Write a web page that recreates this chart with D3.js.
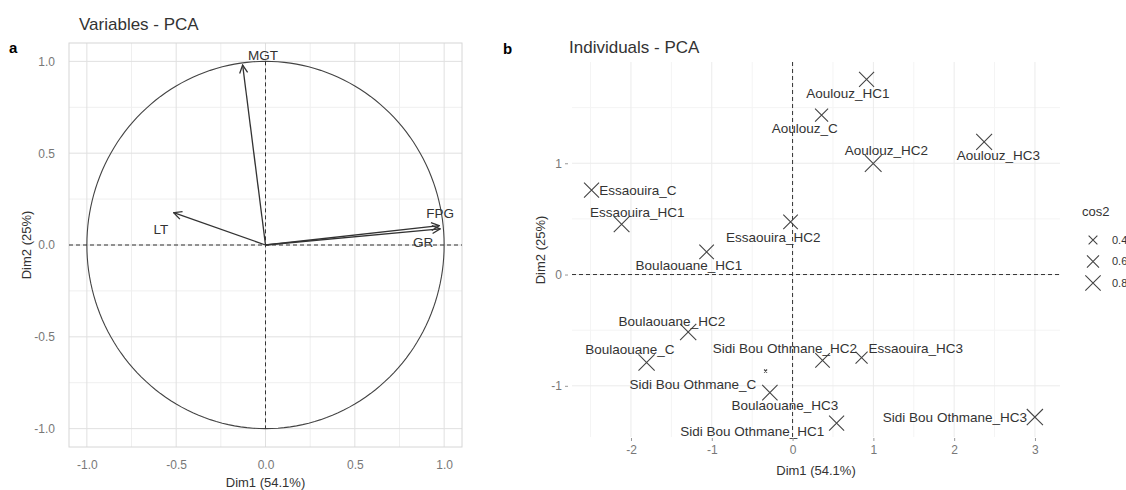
<!DOCTYPE html>
<html>
<head>
<meta charset="utf-8">
<script src="https://cdn.jsdelivr.net/npm/d3@7"></script>
<style>
body { margin: 0; background: #fff; }
text { font-family: "Liberation Sans", Arial, sans-serif; }
</style>
</head>
<body>
<svg width="1126" height="490"></svg>
<script>
// panel a : variables
var varNames = ["MGT", "LT", "FPG", "GR"];
var varDim1 = [-0.128, -0.514, 0.973, 0.978];
var varDim2 = [0.980, 0.176, 0.105, 0.088];
var varLabelX = [-0.014, -0.585, 0.977, 0.882];
var varLabelY = [1.035, 0.087, 0.174, 0.016];
var aTicks = [-1, -0.5, 0, 0.5, 1];
var aMinor = [-0.75, -0.25, 0.25, 0.75];

// panel b : individuals
var indNames = ["Aoulouz_C", "Aoulouz_HC1", "Aoulouz_HC2", "Aoulouz_HC3",
  "Essaouira_C", "Essaouira_HC1", "Essaouira_HC2", "Essaouira_HC3",
  "Boulaouane_C", "Boulaouane_HC1", "Boulaouane_HC2", "Boulaouane_HC3",
  "Sidi Bou Othmane_C", "Sidi Bou Othmane_HC1", "Sidi Bou Othmane_HC2", "Sidi Bou Othmane_HC3"];
var indDim1 = [0.359, 0.916, 0.998, 2.371, -2.488, -2.116, -0.025, 0.854,
  -1.807, -1.064, -1.292, -0.334, -0.281, 0.545, 0.371, 2.999];
var indDim2 = [1.433, 1.754, 0.998, 1.192, 0.758, 0.452, 0.473, -0.747,
  -0.791, 0.203, -0.516, -0.867, -1.061, -1.335, -0.771, -1.281];
var indCos2 = [0.66, 0.78, 0.88, 0.83, 0.78, 0.82, 0.75, 0.60,
  0.85, 0.75, 0.85, 0.05, 0.80, 0.78, 0.75, 0.85];
var indLabelX = [0.151, 0.684, 1.161, 2.547, -1.914, -1.921, -0.238, 1.525,
  -2.014, -1.283, -1.494, -0.095, -1.234, -0.498, -0.095, 2.009];
var indLabelY = [1.316, 1.630, 1.118, 1.073, 0.757, 0.560, 0.335, -0.663,
  -0.675, 0.084, -0.417, -1.175, -0.987, -1.406, -0.666, -1.281];
var bTicksX = [-2, -1, 0, 1, 2, 3];
var bMinorX = [-2.5, -1.5, -0.5, 0.5, 1.5, 2.5];
var bTicksY = [-1, 0, 1];
var bMinorY = [-0.5, 0.5, 1.5];
var legendBreaks = [0.4, 0.6, 0.8];

var svg = d3.select("svg");
var ink = "#333";

svg.append("defs").append("marker")
    .attr("id", "arr")
    .attr("markerUnits", "userSpaceOnUse")
    .attr("viewBox", "-10 -5 11 10")
    .attr("refX", 0).attr("refY", 0)
    .attr("markerWidth", 11).attr("markerHeight", 10)
    .attr("orient", "auto")
  .append("path")
    .attr("d", "M-8,-4L0,0L-8,4")
    .attr("fill", "none")
    .attr("stroke", ink)
    .attr("stroke-width", 1.3);

// ---------- panel a ----------
var xa = d3.scaleLinear().domain([-1.1, 1.1]).range([69, 462]);
var ya = d3.scaleLinear().domain([-1.1, 1.1]).range([447, 43]);
var ga = svg.append("g");

ga.selectAll(".vminor").data(aMinor).enter().append("line")
    .attr("x1", xa).attr("x2", xa).attr("y1", ya(-1.1)).attr("y2", ya(1.1))
    .attr("stroke", "#efefef");
ga.selectAll(".hminor").data(aMinor).enter().append("line")
    .attr("y1", ya).attr("y2", ya).attr("x1", xa(-1.1)).attr("x2", xa(1.1))
    .attr("stroke", "#efefef");
ga.selectAll(".vmajor").data(aTicks).enter().append("line")
    .attr("x1", xa).attr("x2", xa).attr("y1", ya(-1.1)).attr("y2", ya(1.1))
    .attr("stroke", "#e0e0e0");
ga.selectAll(".hmajor").data(aTicks).enter().append("line")
    .attr("y1", ya).attr("y2", ya).attr("x1", xa(-1.1)).attr("x2", xa(1.1))
    .attr("stroke", "#e0e0e0");
ga.append("rect")
    .attr("x", xa(-1.1)).attr("y", ya(1.1))
    .attr("width", xa(1.1) - xa(-1.1)).attr("height", ya(-1.1) - ya(1.1))
    .attr("fill", "none").attr("stroke", "#d6d6d6");

// unit circle
var circ = d3.range(0, 361, 2).map(function(a) {
  var t = a * Math.PI / 180;
  return [xa(Math.cos(t)), ya(Math.sin(t))];
});
ga.append("path").attr("d", d3.line()(circ))
    .attr("fill", "none").attr("stroke", "#444").attr("stroke-width", 1.1);

ga.append("line").attr("x1", xa(-1.1)).attr("x2", xa(1.1)).attr("y1", ya(0)).attr("y2", ya(0))
    .attr("stroke", ink).attr("stroke-dasharray", "4,3");
ga.append("line").attr("x1", xa(0)).attr("x2", xa(0)).attr("y1", ya(1)).attr("y2", ya(-1))
    .attr("stroke", ink).attr("stroke-dasharray", "4,3");

ga.selectAll(".arrow").data(varNames).enter().append("line")
    .attr("x1", xa(0)).attr("y1", ya(0))
    .attr("x2", function(d, i) { return xa(varDim1[i]); })
    .attr("y2", function(d, i) { return ya(varDim2[i]); })
    .attr("stroke", ink).attr("stroke-width", 1.3)
    .attr("marker-end", "url(#arr)");

ga.selectAll(".vlab").data(varNames).enter().append("text")
    .attr("x", function(d, i) { return xa(varLabelX[i]); })
    .attr("y", function(d, i) { return ya(varLabelY[i]); })
    .attr("dy", "0.35em")
    .attr("text-anchor", "middle")
    .attr("font-size", 13.5).attr("fill", ink)
    .text(function(d) { return d; });

var fmt1 = function(d) { return d.toFixed(1); };
var axA = ga.append("g").attr("transform", "translate(0," + 452 + ")")
    .call(d3.axisBottom(xa).tickValues(aTicks).tickFormat(fmt1).tickSize(0).tickPadding(8));
var ayA = ga.append("g").attr("transform", "translate(" + 63 + ",0)")
    .call(d3.axisLeft(ya).tickValues(aTicks).tickFormat(fmt1).tickSize(0).tickPadding(8));
[axA, ayA].forEach(function(a) {
  a.select(".domain").remove();
  a.selectAll("text").attr("font-size", 12).attr("fill", "#777")
    .attr("font-family", "Liberation Sans, Arial, sans-serif");
});

ga.append("text").attr("x", 79).attr("y", 30).attr("font-size", 17).attr("fill", ink)
    .text("Variables - PCA");
ga.append("text").attr("x", 265.5).attr("y", 487).attr("text-anchor", "middle")
    .attr("font-size", 13).attr("fill", ink).text("Dim1 (54.1%)");
ga.append("text").attr("transform", "translate(31,245) rotate(-90)").attr("text-anchor", "middle")
    .attr("font-size", 13).attr("fill", ink).text("Dim2 (25%)");
svg.append("text").attr("x", 9).attr("y", 53)
    .attr("font-family", "Liberation Serif, Times New Roman, serif").attr("font-weight", "bold")
    .attr("font-size", 15).attr("fill", "#000").text("a");

// ---------- panel b ----------
var xb = d3.scaleLinear().domain([-2.73, 3.31]).range([572, 1060]);
var yb = d3.scaleLinear().domain([-1.46, 1.91]).range([437, 62]);
var gb = svg.append("g");

gb.selectAll(".vminor").data(bMinorX).enter().append("line")
    .attr("x1", xb).attr("x2", xb).attr("y1", yb(-1.46)).attr("y2", yb(1.91))
    .attr("stroke", "#f4f4f4");
gb.selectAll(".hminor").data(bMinorY).enter().append("line")
    .attr("y1", yb).attr("y2", yb).attr("x1", xb(-2.73)).attr("x2", xb(3.31))
    .attr("stroke", "#f4f4f4");
gb.selectAll(".vmajor").data(bTicksX).enter().append("line")
    .attr("x1", xb).attr("x2", xb).attr("y1", yb(-1.46)).attr("y2", yb(1.91))
    .attr("stroke", "#ebebeb");
gb.selectAll(".hmajor").data(bTicksY).enter().append("line")
    .attr("y1", yb).attr("y2", yb).attr("x1", xb(-2.73)).attr("x2", xb(3.31))
    .attr("stroke", "#ebebeb");

gb.append("line").attr("x1", xb(-2.73)).attr("x2", xb(3.31)).attr("y1", yb(0)).attr("y2", yb(0))
    .attr("stroke", ink).attr("stroke-dasharray", "4,3");
gb.append("line").attr("x1", xb(0)).attr("x2", xb(0)).attr("y1", yb(1.91)).attr("y2", yb(-1.46))
    .attr("stroke", ink).attr("stroke-dasharray", "4,3");

var size = d3.scaleLinear().domain([0.05, 0.9]).range([3, 17]);
function cross(w) {
  var h = w / 2;
  return "M" + (-h) + "," + (-h) + "L" + h + "," + h + "M" + (-h) + "," + h + "L" + h + "," + (-h);
}

gb.selectAll(".pt").data(indNames).enter().append("path")
    .attr("transform", function(d, i) { return "translate(" + xb(indDim1[i]) + "," + yb(indDim2[i]) + ")"; })
    .attr("d", function(d, i) { return cross(size(indCos2[i])); })
    .attr("fill", "none").attr("stroke", "#444").attr("stroke-width", 1.1);

gb.selectAll(".ilab").data(indNames).enter().append("text")
    .attr("x", function(d, i) { return xb(indLabelX[i]); })
    .attr("y", function(d, i) { return yb(indLabelY[i]); })
    .attr("dy", "0.35em")
    .attr("text-anchor", "middle")
    .attr("font-size", 13.5).attr("fill", ink)
    .text(function(d) { return d; });

var axB = gb.append("g").attr("transform", "translate(0," + 438 + ")")
    .call(d3.axisBottom(xb).tickValues(bTicksX).tickSize(3).tickPadding(4).tickFormat(function(d) { return String(d); }));
var ayB = gb.append("g").attr("transform", "translate(" + 568 + ",0)")
    .call(d3.axisLeft(yb).tickValues(bTicksY).tickSize(3).tickPadding(3).tickFormat(function(d) { return String(d); }));
[axB, ayB].forEach(function(a) {
  a.select(".domain").remove();
  a.selectAll("line").attr("stroke", "#999");
  a.selectAll("text").attr("font-size", 12).attr("fill", "#777")
    .attr("font-family", "Liberation Sans, Arial, sans-serif");
});

gb.append("text").attr("x", 569).attr("y", 53).attr("font-size", 17).attr("fill", ink)
    .text("Individuals - PCA");
gb.append("text").attr("x", 816).attr("y", 475).attr("text-anchor", "middle")
    .attr("font-size", 13).attr("fill", ink).text("Dim1 (54.1%)");
gb.append("text").attr("transform", "translate(545,250) rotate(-90)").attr("text-anchor", "middle")
    .attr("font-size", 13).attr("fill", ink).text("Dim2 (25%)");
svg.append("text").attr("x", 503).attr("y", 54)
    .attr("font-family", "Liberation Serif, Times New Roman, serif").attr("font-weight", "bold")
    .attr("font-size", 15).attr("fill", "#000").text("b");

// legend
var lg = svg.append("g").attr("transform", "translate(1082,0)");
lg.append("text").attr("x", 0).attr("y", 216).attr("font-size", 13).attr("fill", ink).text("cos2");
var ly = d3.scalePoint().domain(legendBreaks).range([240, 283]);
lg.selectAll(".lk").data(legendBreaks).enter().append("path")
    .attr("transform", function(d) { return "translate(11," + ly(d) + ")"; })
    .attr("d", function(d) { return cross(size(d)); })
    .attr("fill", "none").attr("stroke", "#444").attr("stroke-width", 1.1);
lg.selectAll(".lt").data(legendBreaks).enter().append("text")
    .attr("x", 30).attr("y", function(d) { return ly(d); }).attr("dy", "0.35em")
    .attr("font-size", 11).attr("fill", ink)
    .text(function(d) { return d.toFixed(1); });
</script>
</body>
</html>
